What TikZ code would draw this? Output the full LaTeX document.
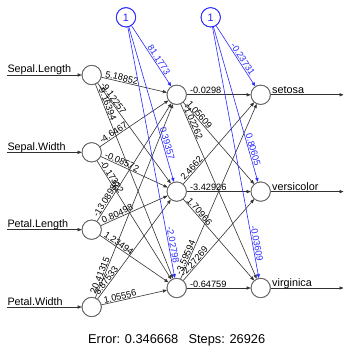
\documentclass[tikz,border=0pt]{standalone}
\usepackage{fontspec}
\setmainfont{Liberation Sans}
\usetikzlibrary{arrows.meta}
\definecolor{biasblue}{RGB}{40,40,255}
\definecolor{wiregray}{RGB}{50,50,50}

\begin{document}
\begin{tikzpicture}[x=1pt,y=-1pt,
  neuron/.style={circle, draw=black!60, fill=white, line width=0.7pt,
    minimum size=19.4pt, inner sep=0pt},
  biasnode/.style={neuron, draw=biasblue, text=biasblue,
    font=\fontsize{10.8}{12}\selectfont},
  wire/.style={draw=wiregray, line width=0.6pt,
    -{Triangle[length=4pt,width=3.2pt]}},
  biaswire/.style={wire, draw=biasblue},
  wlabel/.style={sloped, anchor=south west, inner xsep=3pt, inner ysep=0.6pt,
    font=\fontsize{9.2}{10}\selectfont},
  blabel/.style={sloped, anchor=south, inner sep=0.8pt, text=biasblue,
    font=\fontsize{9.2}{10}\selectfont},
  iolabel/.style={anchor=base west, inner sep=0pt,
    font=\fontsize{10.8}{12}\selectfont}
]
\useasboundingbox (0,0) rectangle (345,347);

% input layer
\node[neuron] (i1) at (91.7,75) {};
\node[neuron] (i2) at (91.7,152.3) {};
\node[neuron] (i3) at (91.7,229.7) {};
\node[neuron] (i4) at (91.7,307) {};
% hidden layer
\node[neuron] (h1) at (176.7,94.8) {};
\node[neuron] (h2) at (176.7,191.6) {};
\node[neuron] (h3) at (176.7,288) {};
% output layer
\node[neuron] (o1) at (260.7,94.8) {};
\node[neuron] (o2) at (260.7,191.6) {};
\node[neuron] (o3) at (260.7,288) {};
% bias units
\node[biasnode] (b1) at (126,17.3) {1};
\node[biasnode] (b2) at (210.7,17.3) {1};

% input lines and names
\coordinate (s1) at (7.3,75);
\coordinate (s2) at (7.3,152.3);
\coordinate (s3) at (7.3,229.7);
\coordinate (s4) at (7.3,307);
\draw[wire] (s1) -- (i1);
\draw[wire] (s2) -- (i2);
\draw[wire] (s3) -- (i3);
\draw[wire] (s4) -- (i4);
\node[iolabel] (n1) at (7.3,73) {Sepal.Length};
\node[iolabel] (n2) at (7.3,150.3) {Sepal.Width};
\node[iolabel] (n3) at (7.3,227.7) {Petal.Length};
\node[iolabel] (n4) at (7.3,305) {Petal.Width};

% output lines and names
\coordinate (e1) at (343.5,94.8);
\coordinate (e2) at (343.5,191.6);
\coordinate (e3) at (343.5,288);
\draw[wire] (o1) -- (e1);
\draw[wire] (o2) -- (e2);
\draw[wire] (o3) -- (e3);
\node[iolabel] (m1) at (272,93.3) {setosa};
\node[iolabel] (m2) at (272,190.1) {versicolor};
\node[iolabel] (m3) at (272,286.5) {virginica};

% input to hidden weights
\draw[wire] (i1) -- node[wlabel,pos=0] {5.18852} (h1);
\draw[wire] (i1) -- node[wlabel,pos=0] {-9.12257} (h2);
\draw[wire] (i1) -- node[wlabel,pos=0] {-9.16394} (h3);
\draw[wire] (i2) -- node[wlabel,pos=0] {-4.6467} (h1);
\draw[wire] (i2) -- node[wlabel,pos=0] {-0.08572} (h2);
\draw[wire] (i2) -- node[wlabel,pos=0] {-0.17322} (h3);
\draw[wire] (i3) -- node[wlabel,pos=0] {-13.08988} (h1);
\draw[wire] (i3) -- node[wlabel,pos=0] {0.80498} (h2);
\draw[wire] (i3) -- node[wlabel,pos=0] {1.23494} (h3);
\draw[wire] (i4) -- node[wlabel,pos=0] {20.41315} (h1);
\draw[wire] (i4) -- node[wlabel,pos=0] {3.87533} (h2);
\draw[wire] (i4) -- node[wlabel,pos=0] {1.05556} (h3);

% hidden to output weights
\draw[wire] (h1) -- node[wlabel,pos=0] {-0.0298} (o1);
\draw[wire] (h1) -- node[wlabel,pos=0] {1.05609} (o2);
\draw[wire] (h1) -- node[wlabel,pos=0] {-1.02262} (o3);
\draw[wire] (h2) -- node[wlabel,pos=0] {2.4662} (o1);
\draw[wire] (h2) -- node[wlabel,pos=0] {-3.42926} (o2);
\draw[wire] (h2) -- node[wlabel,pos=0] {1.70966} (o3);
\draw[wire] (h3) -- node[wlabel,pos=0] {-3.59594} (o1);
\draw[wire] (h3) -- node[wlabel,pos=0] {-2.27269} (o2);
\draw[wire] (h3) -- node[wlabel,pos=0] {-0.64759} (o3);

% bias weights
\draw[biaswire] (b1) -- node[blabel,pos=0.6] {81.1773} (h1);
\draw[biaswire] (b1) -- node[blabel,pos=0.76] {0.39357} (h2);
\draw[biaswire] (b1) -- node[blabel,pos=0.87] {-2.02798} (h3);
\draw[biaswire] (b2) -- node[blabel,pos=0.59] {-0.23731} (o1);
\draw[biaswire] (b2) -- node[blabel,pos=0.8] {0.80605} (o2);
\draw[biaswire] (b2) -- node[blabel,pos=0.865] {-0.03609} (o3);

% redraw units on top of the wires
\foreach \n in {i1,i2,i3,i4,h1,h2,h3,o1,o2,o3}
  \draw[black!60, line width=0.7pt] (\n) circle (9.7pt);
\foreach \n in {b1,b2}
  \draw[biasblue, line width=0.7pt] (\n) circle (9.7pt);

\node[anchor=base, inner sep=0pt, font=\fontsize{12.8}{14}\selectfont] (err)
  at (176.7,343.8) {Error: 0.346668\hspace{0.8em}Steps: 26926};
\end{tikzpicture}
\end{document}
